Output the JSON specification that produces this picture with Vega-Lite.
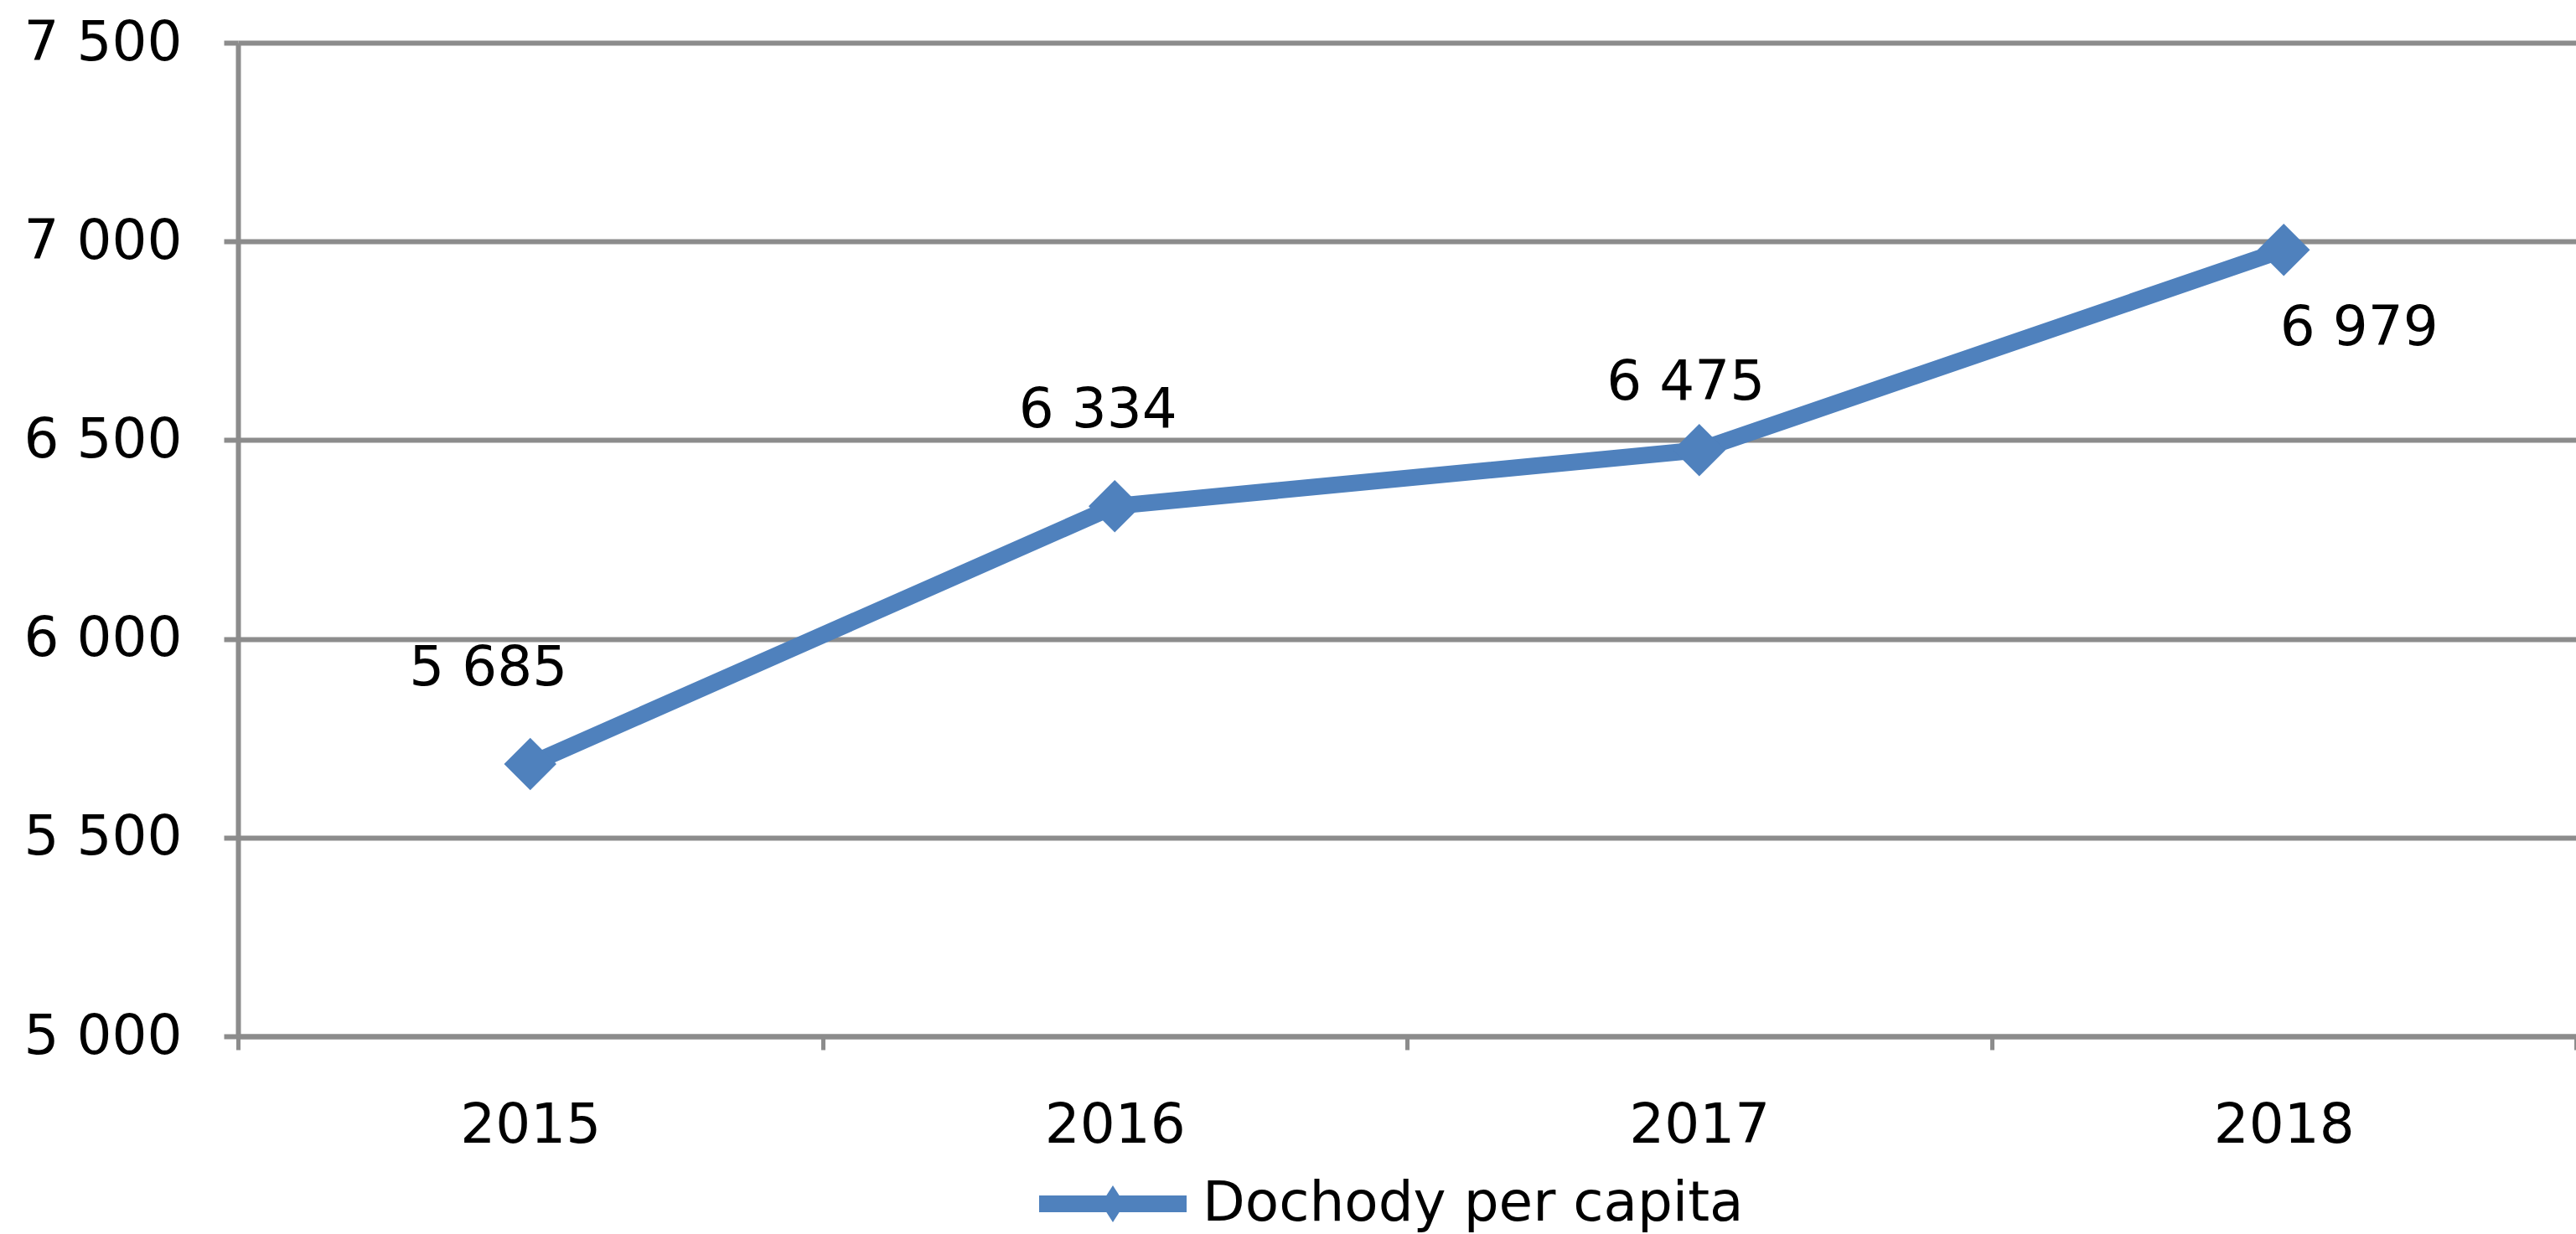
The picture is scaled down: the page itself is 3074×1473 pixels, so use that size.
{
  "$schema": "https://vega.github.io/schema/vega-lite/v6.json",
  "autosize": "none",
  "width": 2790,
  "height": 1186,
  "padding": {"left": 284, "top": 51, "right": 0, "bottom": 236},
  "background": "white",
  "config": {
    "locale": {"number": {"decimal": ",", "thousands": " ", "grouping": [3], "currency": ["", ""]}},
    "view": {"stroke": null},
    "font": "DejaVu Sans",
    "text": {"font": "DejaVu Sans"}
  },
  "data": {
    "values": [
      {"year": "2015", "value": 5685},
      {"year": "2016", "value": 6334},
      {"year": "2017", "value": 6475},
      {"year": "2018", "value": 6979}
    ]
  },
  "encoding": {
    "x": {
      "field": "year",
      "type": "ordinal",
      "bandPosition": 0.5,
      "scale": {"type": "band", "paddingInner": 0, "paddingOuter": 0},
      "axis": {
        "title": null,
        "labelAngle": 0,
        "labelFont": "DejaVu Sans",
        "labelFontSize": 66,
        "labelColor": "#000000",
        "labelPadding": 58,
        "labelLimit": 0,
        "tickBand": "extent",
        "tickSize": 16,
        "tickWidth": 5,
        "tickColor": "#8c8c8c",
        "domain": true,
        "domainColor": "#8c8c8c",
        "domainWidth": 6,
        "grid": false
      }
    },
    "y": {
      "field": "value",
      "type": "quantitative",
      "scale": {"domain": [5000, 7500], "nice": false, "zero": false},
      "axis": {
        "title": null,
        "values": [5000, 5500, 6000, 6500, 7000, 7500],
        "format": ",d",
        "labelFont": "DejaVu Sans",
        "labelFontSize": 66,
        "labelColor": "#000000",
        "labelPadding": 50,
        "labelLimit": 0,
        "tickSize": 17,
        "tickWidth": 6,
        "tickColor": "#8c8c8c",
        "domain": true,
        "domainColor": "#8c8c8c",
        "domainWidth": 6,
        "grid": true,
        "gridColor": "#8c8c8c",
        "gridWidth": 6
      }
    }
  },
  "layer": [
    {
      "mark": {"type": "line", "color": "#4F81BD", "strokeWidth": 20, "strokeJoin": "round", "strokeCap": "round"},
      "encoding": {}
    },
    {
      "mark": {"type": "point", "shape": "diamond", "size": 3900, "filled": true, "opacity": 1, "strokeWidth": 0},
      "encoding": {
        "color": {
          "datum": "Dochody per capita",
          "type": "nominal",
          "scale": {"range": ["#4F81BD"]},
          "legend": {
            "title": null,
            "orient": "none",
            "legendX": 956,
            "legendY": 1298,
            "symbolType": "M-1,-0.114L1,-0.114L1,0.114L-1,0.114Z M0,-0.25L0.16,0L0,0.25L-0.16,0Z",
            "symbolSize": 30976,
            "symbolStrokeWidth": 0,
            "symbolOpacity": 1,
            "symbolFillColor": "#4F81BD",
            "labelFont": "DejaVu Sans",
            "labelFontSize": 66,
            "labelColor": "#000000",
            "labelOffset": 19,
            "labelLimit": 2000
          }
        }
      }
    },
    {
      "transform": [{"filter": "datum.year == '2015'"}],
      "mark": {"type": "text", "fontSize": 66, "color": "#000000", "align": "center", "baseline": "middle", "dx": -50, "dy": -114},
      "encoding": {"text": {"field": "value", "type": "quantitative", "format": ",d"}}
    },
    {
      "transform": [{"filter": "datum.year == '2016'"}],
      "mark": {"type": "text", "fontSize": 66, "color": "#000000", "align": "center", "baseline": "middle", "dx": -20, "dy": -114},
      "encoding": {"text": {"field": "value", "type": "quantitative", "format": ",d"}}
    },
    {
      "transform": [{"filter": "datum.year == '2017'"}],
      "mark": {"type": "text", "fontSize": 66, "color": "#000000", "align": "center", "baseline": "middle", "dx": -16, "dy": -80},
      "encoding": {"text": {"field": "value", "type": "quantitative", "format": ",d"}}
    },
    {
      "transform": [{"filter": "datum.year == '2018'"}],
      "mark": {"type": "text", "fontSize": 66, "color": "#000000", "align": "center", "baseline": "middle", "dx": 90, "dy": 94},
      "encoding": {"text": {"field": "value", "type": "quantitative", "format": ",d"}}
    }
  ]
}
